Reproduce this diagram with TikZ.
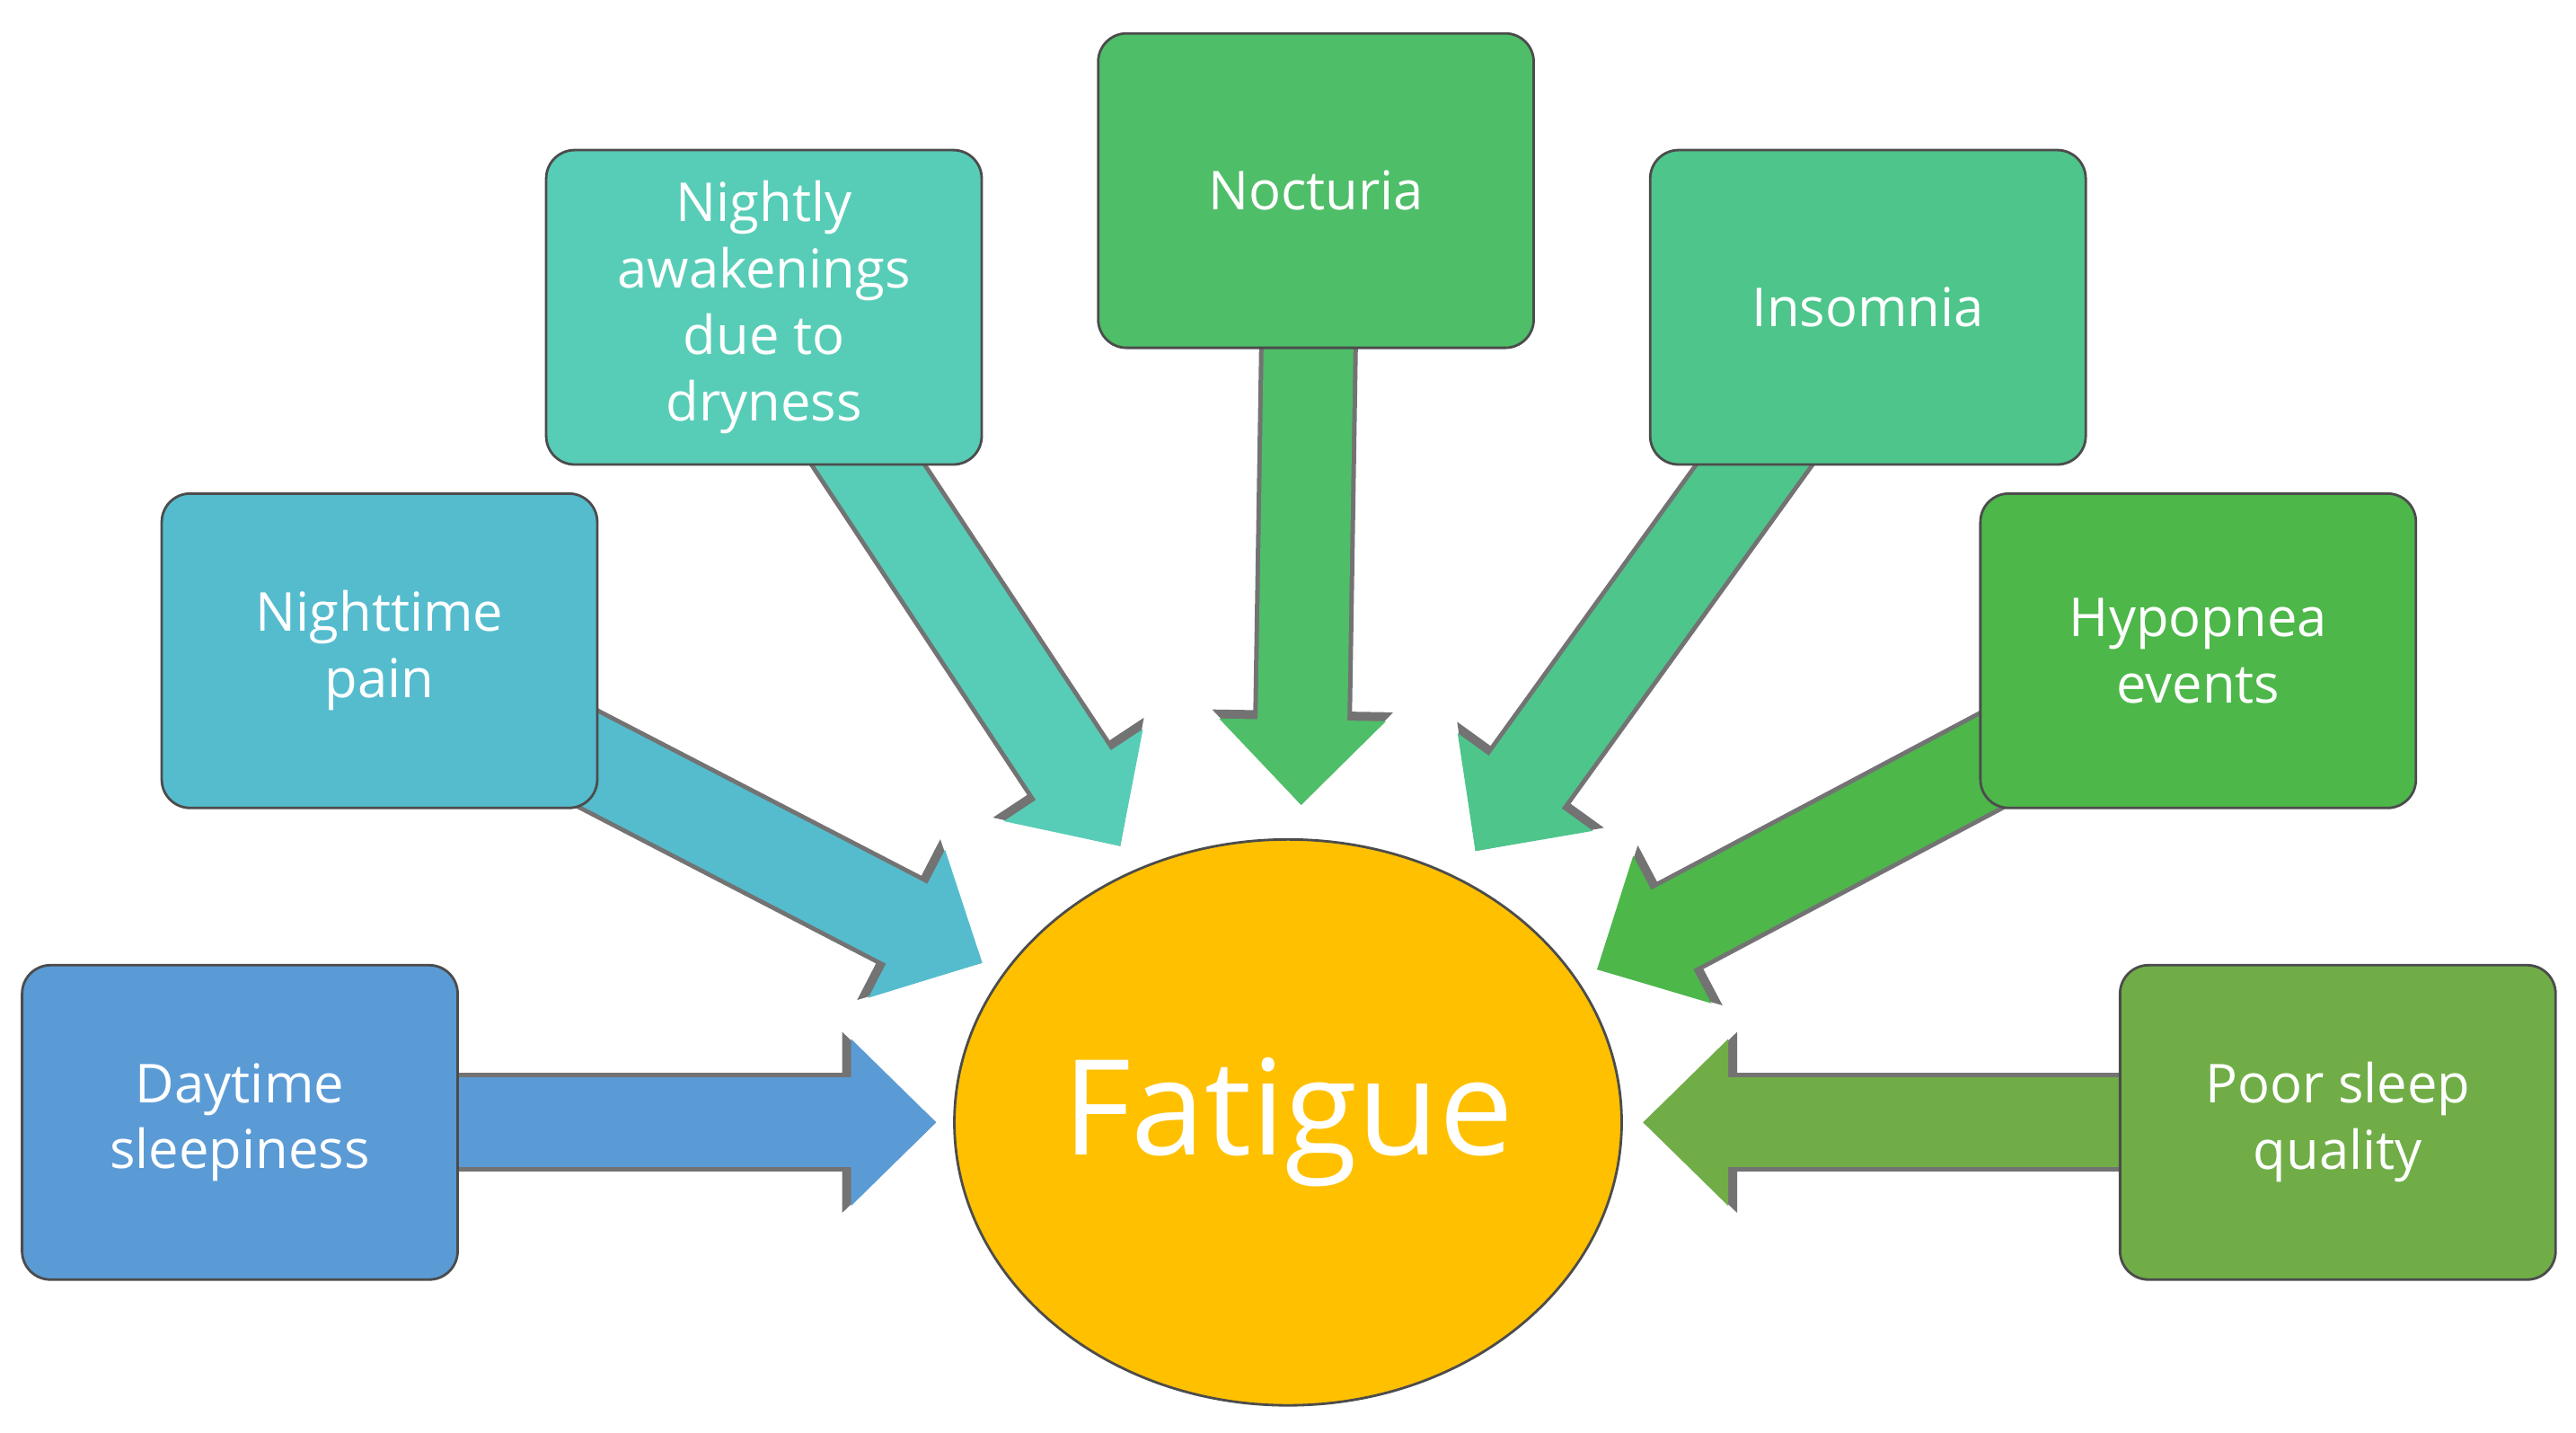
\documentclass[tikz,border=0pt]{standalone}
\usepackage{fontspec}
\setmainfont{Open Sans}
\usetikzlibrary{arrows.meta,shapes.geometric}
\definecolor{cDay}{HTML}{5B9BD5}
\definecolor{cPain}{HTML}{55BCCE}
\definecolor{cWake}{HTML}{57CDB7}
\definecolor{cNoct}{HTML}{4EBE68}
\definecolor{cInso}{HTML}{4EC58B}
\definecolor{cHypo}{HTML}{4DB74A}
\definecolor{cPoor}{HTML}{70AD47}
\definecolor{cFat}{HTML}{FFC000}
\tikzset{
        causebox/.style = {rectangle, rounded corners=9pt, draw=black!70,
            thick, minimum width=4.85cm, minimum height=3.5cm, align=center,
            text=white, font=\fontsize{17}{21}\selectfont},
        fatnode/.style = {ellipse, draw=black!70, thick, fill=cFat,
            minimum width=6.95cm, minimum height=6.3cm, text=white,
            font=\fontsize{42}{48}\selectfont},
        blockout/.style = {line width=1.1cm, draw=black!55,
            -{Triangle[length=1.05cm 0, width=1.95cm 0]}},
        blockin/.style = {line width=1cm,
            -{Triangle[length=0.95cm 0, width=1.8cm 0]}}
    }
\newcommand{\blockarrow}[3]{%
    \draw[blockout] (#1) -- (#2);
    \draw[blockin, draw=#3] (#1) -- (#2);}

\begin{document}
\begin{tikzpicture}[x=0.01829cm, y=-0.01829cm]
\useasboundingbox (0,0) rectangle (1568,872);
% tips of the block arrows
\coordinate (tDay) at (570,683);
\coordinate (tPain) at (598,586);
\coordinate (tWake) at (682,515);
\coordinate (tNoct) at (792,490);
\coordinate (tInso) at (898,518);
\coordinate (tHypo) at (972,590);
\coordinate (tPoor) at (1000,683);
\coordinate (sNoct) at (798,116);
% arrows go under the boxes
\blockarrow{146,683}{tDay}{cDay}
\blockarrow{231,396}{tPain}{cPain}
\blockarrow{465,187}{tWake}{cWake}
\blockarrow{sNoct}{tNoct}{cNoct}
\blockarrow{1137,187}{tInso}{cInso}
\blockarrow{1338,396}{tHypo}{cHypo}
\blockarrow{1423,683}{tPoor}{cPoor}
\node [causebox, fill=cDay] (day) at (146,683) {Daytime\\sleepiness};
\node [causebox, fill=cPain] (pain) at (231,396) {Nighttime\\pain};
\node [causebox, fill=cWake] (wake) at (465,187) {Nightly\\awakenings\\due to\\dryness};
\node [causebox, fill=cNoct] (noct) at (801,116) {Nocturia};
\node [causebox, fill=cInso] (inso) at (1137,187) {Insomnia};
\node [causebox, fill=cHypo] (hypo) at (1338,396) {Hypopnea\\events};
\node [causebox, fill=cPoor] (poor) at (1423,683) {Poor sleep\\quality};
\node [fatnode] (fat) at (784,683) {Fatigue};
\end{tikzpicture}
\end{document}
